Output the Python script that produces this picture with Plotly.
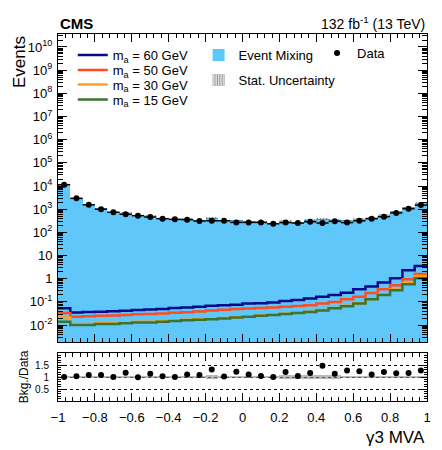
import numpy as np
import plotly.graph_objects as go

# ---------------- data ----------------
bin_edges = list(np.round(np.linspace(-1.0, 1.0, 31), 6))

data_counts = [11400, 2950, 1550, 1000, 740, 605, 525, 460, 390, 365,
               355, 310, 317, 317, 270, 270, 270, 235, 265, 253,
               288, 253, 300, 265, 318, 390, 475, 690, 1050, 1510]

bkg_mixing = [11400, 3040, 1670, 1080, 740, 714, 520, 524, 402, 365,
              390, 335, 415, 323, 330, 297, 281, 235, 321, 263,
              337, 372, 342, 337, 394, 429, 575, 800, 1230, 1920]

bkg_relerr = [0.03, 0.05, 0.05, 0.05, 0.05, 0.05, 0.05, 0.05, 0.05, 0.05,
              0.05, 0.05, 0.07, 0.05, 0.05, 0.05, 0.05, 0.05, 0.06, 0.06,
              0.07, 0.08, 0.07, 0.06, 0.05, 0.05, 0.05, 0.04, 0.04, 0.04]

ratio = [1.00, 1.03, 1.08, 1.08, 1.00, 1.18, 0.99, 1.14, 1.03, 1.00,
         1.10, 1.08, 1.31, 1.02, 1.22, 1.10, 1.04, 1.00, 1.21, 1.04,
         1.17, 1.47, 1.14, 1.27, 1.24, 1.10, 1.21, 1.16, 1.17, 1.27]

ratio_err = [0.03, 0.04, 0.04, 0.04, 0.04, 0.04, 0.04, 0.04, 0.04, 0.04,
             0.05, 0.05, 0.08, 0.05, 0.05, 0.05, 0.05, 0.05, 0.07, 0.07,
             0.08, 0.09, 0.08, 0.06, 0.05, 0.05, 0.05, 0.04, 0.04, 0.04]

sig_m60 = [0.053, 0.035, 0.037, 0.038, 0.040, 0.042, 0.045, 0.047, 0.050, 0.055,
           0.058, 0.062, 0.068, 0.072, 0.075, 0.085, 0.088, 0.095, 0.11, 0.12,
           0.14, 0.165, 0.20, 0.25, 0.35, 0.46, 0.68, 1.05, 2.3, 3.5]
sig_m50 = [0.033, 0.023, 0.024, 0.025, 0.026, 0.027, 0.029, 0.030, 0.032, 0.034,
           0.036, 0.039, 0.043, 0.046, 0.049, 0.052, 0.055, 0.057, 0.062, 0.066,
           0.072, 0.085, 0.10, 0.13, 0.165, 0.24, 0.35, 0.52, 0.95, 1.6]
sig_m30 = [0.021, 0.011, 0.011, 0.012, 0.012, 0.013, 0.014, 0.014, 0.015, 0.016,
           0.017, 0.018, 0.019, 0.020, 0.022, 0.024, 0.026, 0.028, 0.031, 0.034,
           0.038, 0.045, 0.055, 0.068, 0.088, 0.135, 0.21, 0.34, 0.65, 1.3]
sig_m15 = [0.014, 0.010, 0.010, 0.011, 0.011, 0.012, 0.013, 0.013, 0.014, 0.015,
           0.016, 0.017, 0.018, 0.019, 0.021, 0.023, 0.025, 0.027, 0.030, 0.033,
           0.037, 0.043, 0.053, 0.065, 0.085, 0.13, 0.20, 0.32, 0.58, 1.05]

sig_names = ["m<sub>a</sub> = 60 GeV", "m<sub>a</sub> = 50 GeV",
             "m<sub>a</sub> = 30 GeV", "m<sub>a</sub> = 15 GeV"]
sig_colors = ["#0a0a8c", "#ff4b1f", "#ffa01e", "#3b7432"]

y_tick_labels = ["10<sup>-2</sup>", "10<sup>-1</sup>", "1", "10", "10<sup>2</sup>",
                 "10<sup>3</sup>", "10<sup>4</sup>", "10<sup>5</sup>", "10<sup>6</sup>",
                 "10<sup>7</sup>", "10<sup>8</sup>", "10<sup>9</sup>", "10<sup>10</sup>"]
x_tick_labels = ["\u22121", "\u22120.8", "\u22120.6", "\u22120.4", "\u22120.2",
                 "0", "0.2", "0.4", "0.6", "0.8", "1"]

# ---------------- derived helpers ----------------
edges = np.array(bin_edges)
centers = 0.5 * (edges[:-1] + edges[1:])
bw = edges[1] - edges[0]
FONT = "Liberation Sans, Arial, sans-serif"
fill_blue = "rgb(95,199,250)"

fig = go.Figure()

# Event mixing histogram
fig.add_trace(go.Bar(x=centers, y=bkg_mixing, width=bw, marker=dict(color=fill_blue, line=dict(width=0)),
                     name="Event Mixing", legend="legend5", xaxis="x", yaxis="y"))
# stat uncertainty (hatched)
bk = np.array(bkg_mixing, float)
re = np.array(bkg_relerr)
fig.add_trace(go.Bar(x=centers, y=2 * bk * re, base=bk * (1 - re), width=bw,
                     marker=dict(color="rgba(0,0,0,0)", line=dict(width=0),
                                 pattern=dict(shape="|", fgcolor="#303030", bgcolor="rgba(0,0,0,0)",
                                              size=3, solidity=0.6, fillmode="overlay")),
                     name="Stat. Uncertainty", legend="legend6", xaxis="x", yaxis="y"))

# signals (one legend box per entry to reproduce the tight spacing)
sig_legends = ["legend", "legend2", "legend3", "legend4"]
for vals, nm, col, lg in zip([sig_m60, sig_m50, sig_m30, sig_m15], sig_names, sig_colors, sig_legends):
    fig.add_trace(go.Scatter(x=edges, y=list(vals) + [vals[-1]], mode="lines",
                             line=dict(shape="hv", color=col, width=2.5),
                             name=nm, legend=lg, xaxis="x", yaxis="y"))

# data
dc = np.array(data_counts, float)
fig.add_trace(go.Scatter(x=centers, y=dc, mode="markers", marker=dict(color="black", size=6),
                         error_y=dict(type="data", array=np.sqrt(dc), color="black", thickness=1.5, width=0),
                         error_x=dict(type="constant", value=bw / 2, color="black", thickness=1.5, width=0),
                         name="Data", legend="legend7", xaxis="x", yaxis="y"))

# ratio band + points
rerr = np.array(ratio_err)
fig.add_trace(go.Bar(x=centers, y=2 * rerr, base=1 - rerr, width=bw,
                     marker=dict(color="rgba(140,140,140,0.6)", line=dict(width=0)),
                     showlegend=False, xaxis="x2", yaxis="y2"))
fig.add_trace(go.Scatter(x=centers, y=ratio, mode="markers", marker=dict(color="black", size=6),
                         showlegend=False, xaxis="x2", yaxis="y2"))

y_tick_vals = [10.0 ** k for k in range(-2, 11)]
minor_vals = [m * 10.0 ** k for k in range(-3, 11) for m in range(2, 10)]

axis_common = dict(showline=True, linecolor="black", linewidth=1, mirror="allticks", ticks="inside",
                   tickcolor="black", zeroline=False,
                   tickfont=dict(family=FONT, size=13, color="black"))

top_dom = (401 - 342) / 367


def ypix(p):
    return (401 - p) / 367


def leg(x, yp):
    return dict(x=x, y=ypix(yp), xanchor="left", yanchor="middle", bgcolor="rgba(0,0,0,0)",
                font=dict(family=FONT, size=13, color="black"), tracegroupgap=0, itemwidth=30)


fig.update_layout(
    width=442, height=450,
    margin=dict(l=58, r=15, t=34, b=49),
    paper_bgcolor="white", plot_bgcolor="white",
    barmode="overlay", bargap=0,
    font=dict(family=FONT, size=13, color="black"),
    xaxis=dict(**axis_common, showgrid=False, domain=[0, 1], anchor="y", range=[-1, 1], matches="x2",
               tickvals=[-1 + 0.2 * i for i in range(11)], ticklen=8, showticklabels=False,
               minor=dict(ticks="inside", dtick=0.04, tick0=-1, ticklen=4, tickcolor="black")),
    yaxis=dict(**axis_common, showgrid=False, domain=[top_dom, 1], anchor="x", type="log", range=[-2.73, 10.56],
               tickvals=y_tick_vals, ticktext=y_tick_labels, ticklen=9, ticklabelstandoff=2,
               minor=dict(ticks="inside", tickvals=minor_vals, ticklen=5, tickcolor="black")),
    xaxis2=dict(**axis_common, showgrid=False, domain=[0, 1], anchor="y2", range=[-1, 1],
                tickvals=[-1 + 0.2 * i for i in range(11)], ticktext=x_tick_labels, ticklen=8,
                ticklabelstandoff=4,
                minor=dict(ticks="inside", dtick=0.04, tick0=-1, ticklen=4, tickcolor="black")),
    yaxis2=dict(showline=True, linecolor="black", linewidth=1, mirror="allticks", ticks="inside",
                tickcolor="black", zeroline=False, tickfont=dict(family=FONT, size=10, color="black"),
                domain=[0, (401 - 353) / 367], anchor="x2", range=[0, 2],
                tickvals=[0.5, 1, 1.5], ticktext=["0.5", "1", "1.5"], ticklen=6, ticklabelstandoff=6,
                showgrid=True, gridcolor="black", griddash="dot", gridwidth=1,
                title=dict(text="Bkg./Data", font=dict(family=FONT, size=12, color="black"), standoff=3),
                minor=dict(ticks="inside", dtick=0.1, ticklen=3, tickcolor="black")),
    legend=leg(0.04, 55),
    legend2=leg(0.04, 70),
    legend3=leg(0.04, 84.5),
    legend4=leg(0.04, 99.5),
    legend5=leg(0.381, 55),
    legend6=leg(0.381, 80),
    legend7=leg(0.702, 53),
    annotations=[
        dict(text="<b>CMS</b>", xref="paper", yref="paper", x=0, y=1, xanchor="left", yanchor="bottom",
             showarrow=False, font=dict(family=FONT, size=15)),
        dict(text="132 fb<sup>-1</sup> (13 TeV)", xref="paper", yref="paper", x=1, y=1, xanchor="right",
             yanchor="bottom", showarrow=False, font=dict(family=FONT, size=14)),
        dict(text="Events", xref="paper", yref="paper", x=-0.1057, y=1, xanchor="center", yanchor="top",
             textangle=-90, showarrow=False, font=dict(family=FONT, size=17)),
        dict(text="\u03b33 MVA", xref="paper", yref="paper", x=1, y=-0.1, xanchor="right", yanchor="middle",
             showarrow=False, font=dict(family=FONT, size=17)),
    ],
)

fig.write_html("out.html")
